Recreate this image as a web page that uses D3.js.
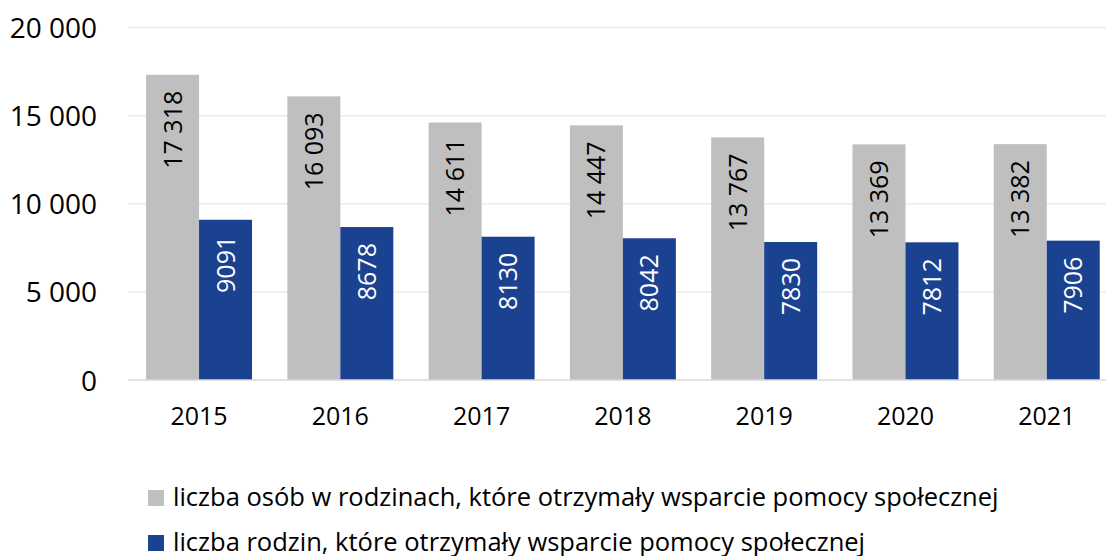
<!DOCTYPE html>
<html>
<head>
<meta charset="utf-8">
<script src="https://cdn.jsdelivr.net/npm/d3@7"></script>
<style>
  html, body { margin: 0; padding: 0; background: #fff; }
  svg { display: block; font-family: "Open Sans", sans-serif; }
</style>
</head>
<body>
<div class="canva"></div>
<script>
const years = ["2015", "2016", "2017", "2018", "2019", "2020", "2021"];
const persons = [17318, 16093, 14611, 14447, 13767, 13369, 13382];
const families = [9091, 8678, 8130, 8042, 7830, 7812, 7906];
const yTicks = [0, 5000, 10000, 15000, 20000];
const seriesNames = [
    "liczba osób w rodzinach, które otrzymały wsparcie pomocy społecznej",
    "liczba rodzin, które otrzymały wsparcie pomocy społecznej"
];
const colors = ["#bfbfbf", "#1b4290"];

const width = 1106, height = 556;

const svg = d3.select(".canva").append("svg")
    .attr("width", width)
    .attr("height", height);

// space as thousands separator, but 4-digit numbers stay plain (Polish style)
const fmt = v => v >= 10000 ? d3.format(",")(v).replace(/,/g, " ") : String(v);
const tickFmt = v => d3.format(",")(v).replace(/,/g, " ");

const x = d3.scaleBand()
    .domain(years)
    .range([128.4, 1117.4])
    .paddingInner(0.25)
    .paddingOuter(0.125);

const x1 = d3.scaleBand()
    .domain([0, 1])
    .range([0, x.bandwidth()]);

const y = d3.scaleLinear()
    .domain([0, 20000])
    .range([380, 27.5]);

// gridlines
svg.append("g")
    .selectAll("line")
    .data(yTicks.slice(1))
    .enter()
    .append("line")
    .attr("x1", 128)
    .attr("x2", width)
    .attr("y1", d => y(d))
    .attr("y2", d => y(d))
    .attr("stroke", "#ebebeb")
    .attr("stroke-width", 1.5);

// y axis labels
const yAxis = d3.axisLeft(y).tickValues(yTicks).tickFormat(tickFmt).tickSize(0).tickPadding(0);
const yAxisGroup = svg.append("g")
    .attr("transform", "translate(97, 0)")
    .call(yAxis);
yAxisGroup.select(".domain").remove();
yAxisGroup.selectAll("text")
    .attr("fill", "#000")
    .attr("dy", "0.36em")
    .style("font-size", "28px")
    .style("font-family", "'Open Sans', sans-serif");

const series = [persons, families];

series.forEach((vals, s) => {
    const g = svg.append("g");
    g.selectAll("rect")
        .data(vals)
        .enter()
        .append("rect")
        .attr("x", (d, i) => x(years[i]) + x1(s))
        .attr("y", d => y(d))
        .attr("width", x1.bandwidth())
        .attr("height", d => y(0) - y(d))
        .attr("fill", colors[s]);

    g.selectAll("text")
        .data(vals)
        .enter()
        .append("text")
        .attr("transform", (d, i) => {
            const cx = x(years[i]) + x1(s) + x1.bandwidth() / 2;
            return `translate(${cx}, ${y(d) + 16}) rotate(-90)`;
        })
        .attr("text-anchor", "end")
        .attr("dy", "0.36em")
        .attr("fill", s === 0 ? "#000" : "#fff")
        .style("font-size", "25px")
        .text(d => fmt(d));
});

// zero line
svg.append("line")
    .attr("x1", 128)
    .attr("x2", width)
    .attr("y1", y(0))
    .attr("y2", y(0))
    .attr("stroke", "#d9d9d9")
    .attr("stroke-width", 1.5);

// x axis labels
const xAxis = d3.axisBottom(x).tickSize(0).tickPadding(0);
const xAxisGroup = svg.append("g")
    .attr("transform", `translate(0, ${y(0)})`)
    .call(xAxis);
xAxisGroup.select(".domain").remove();
xAxisGroup.selectAll("text")
    .attr("fill", "#000")
    .attr("y", 45)
    .attr("dy", 0)
    .style("font-size", "25px")
    .style("font-family", "'Open Sans', sans-serif");

// legend
const legend = svg.append("g")
    .attr("transform", "translate(148, 490)");

seriesNames.forEach((name, i) => {
    const row = legend.append("g")
        .attr("transform", `translate(0, ${i * 45})`);
    row.append("rect")
        .attr("width", 16)
        .attr("height", 16)
        .attr("fill", colors[i]);
    row.append("text")
        .attr("x", 25)
        .attr("y", 16)
        .attr("fill", "#000")
        .style("font-size", "25.5px")
        .text(name);
});
</script>
</body>
</html>
